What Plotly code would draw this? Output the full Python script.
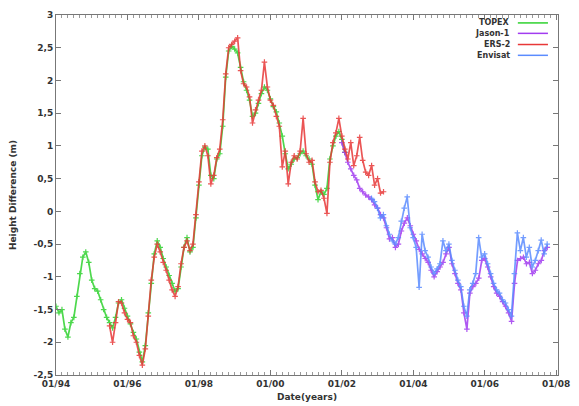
import numpy as np
import plotly.graph_objects as go

# ---------------- data (decimal years, monthly sampling) ----------------
topex_start = 1994.0
topex_vals = [-1.45, -1.55, -1.50, -1.80, -1.92, -1.70, -1.62, -1.30, -0.95, -0.70, -0.62, -0.78,
              -1.05, -1.18, -1.22, -1.35, -1.50, -1.62, -1.70, -1.78, -1.62, -1.40, -1.35, -1.48,
              -1.60, -1.72, -1.85, -1.95, -2.15, -2.30, -2.05, -1.55, -1.10, -0.65, -0.45, -0.55,
              -0.72, -0.85, -0.98, -1.10, -1.22, -1.18, -0.85, -0.55, -0.40, -0.62, -0.55, -0.10,
              0.40, 0.85, 0.98, 0.95, 0.55, 0.50, 0.80, 0.88, 1.30, 2.05, 2.45, 2.52,
              2.48, 2.42, 2.20, 1.98, 1.85, 1.70, 1.45, 1.50, 1.65, 1.80, 1.90, 1.85,
              1.72, 1.60, 1.52, 1.35, 1.15, 0.88, 0.65, 0.72, 0.80, 0.82, 0.88, 0.92,
              0.85, 0.80, 0.72, 0.40, 0.18, 0.30, 0.26, 0.35, 0.80, 1.00, 1.15, 1.22,
              1.10, 0.90]

ers2_start = 1995.5
ers2_vals = [-1.75, -2.00, -1.70, -1.38, -1.40, -1.55,
             -1.65, -1.70, -1.90, -2.00, -2.20, -2.35, -2.10, -1.60, -1.05, -0.70, -0.50, -0.62,
             -0.78, -0.90, -1.05, -1.20, -1.30, -1.15, -0.80, -0.55, -0.45, -0.60, -0.50, -0.05,
             0.45, 0.92, 1.00, 0.85, 0.42, 0.55, 0.82, 0.95, 1.40, 2.10, 2.50, 2.55,
             2.60, 2.65, 2.15, 1.95, 1.90, 1.75, 1.35, 1.55, 1.70, 1.85, 2.28, 1.90,
             1.70, 1.62, 1.45, 1.30, 0.68, 0.92, 0.42, 0.75, 0.85, 0.80, 0.92, 1.42,
             0.88, 0.75, 0.78, 0.45, 0.30, 0.32, 0.20, -0.03, 0.75, 1.05, 1.20, 1.42,
             1.15, 0.95, 0.80, 1.05, 0.70, 0.85, 1.13, 0.78, 0.60, 0.55, 0.70, 0.40,
             0.50, 0.28, 0.30]

jason_start = 2002.0
jason_vals = [1.05, 0.90, 0.75, 0.65, 0.55, 0.48, 0.35, 0.30, 0.25, 0.22, 0.18, 0.10,
              0.05, -0.05, -0.10, -0.25, -0.42, -0.40, -0.55, -0.50, -0.30, -0.18, -0.10, -0.22,
              -0.35, -0.45, -0.58, -0.65, -0.72, -0.78, -0.90, -1.00, -0.92, -0.85, -0.78, -0.65,
              -0.55, -0.80, -0.95, -1.10, -1.20, -1.55, -1.80, -1.25, -1.15, -1.10, -1.02, -0.75,
              -0.72, -0.85, -1.00, -1.15, -1.25, -1.30, -1.38, -1.45, -1.55, -1.68, -1.10, -0.75,
              -0.72, -0.70, -0.80, -0.78, -0.95, -0.90, -0.80, -0.75, -0.60, -0.55]

envisat_start = 2002.83
envisat_vals = [0.20, 0.15,
                0.05, -0.10, -0.05, -0.22, -0.35, -0.45, -0.50, -0.40, -0.15, 0.05, 0.22, -0.25,
                -0.40, -0.55, -1.16, -0.35, -0.60, -0.70, -0.85, -0.95, -0.88, -0.80, -0.45, -0.60,
                -0.50, -0.75, -0.90, -1.05, -1.15, -1.45, -1.60, -1.20, -1.10, -0.95, -0.40, -0.70,
                -0.65, -0.80, -0.95, -1.10, -1.20, -1.25, -1.35, -1.40, -1.50, -1.60, -0.95, -0.33,
                -0.60, -0.40, -0.70, -0.55, -0.85, -0.75, -0.60, -0.44, -0.65, -0.50]

series_names = ["TOPEX", "Jason-1", "ERS-2", "Envisat"]
series_colors = ["#2fd22f", "#a23cf0", "#e83838", "#5b8cff"]

x_tick_vals = [1994, 1996, 1998, 2000, 2002, 2004, 2006, 2008]
x_tick_text = ["01/94", "01/96", "01/98", "01/00", "01/02", "01/04", "01/06", "01/08"]
y_tick_vals = [-2.5, -2, -1.5, -1, -0.5, 0, 0.5, 1, 1.5, 2, 2.5, 3]
y_tick_text = ["-2,5", "-2", "-1,5", "-1", "-0,5", "0", "0,5", "1", "1,5", "2", "2,5", "3"]


def months(start, vals):
    return [round(start + i / 12.0, 4) for i in range(len(vals))]


data = {
    "TOPEX": (months(topex_start, topex_vals), topex_vals),
    "Jason-1": (months(jason_start, jason_vals), jason_vals),
    "ERS-2": (months(ers2_start, ers2_vals), ers2_vals),
    "Envisat": (months(envisat_start, envisat_vals), envisat_vals),
}

FONT = "DejaVu Sans"
fig = go.Figure()
for name, col in zip(series_names, series_colors):
    xs, ys = data[name]
    fig.add_trace(go.Scatter(
        x=xs, y=ys, mode="lines+markers", name=name,
        line=dict(color=col, width=1.7),
        marker=dict(color=col, size=4, symbol="cross-thin", line=dict(color=col, width=1.2)),
        opacity=0.85, showlegend=False))

# custom gnuplot-style key (text right-aligned, sample to the right)
key_rows = [0.978, 0.949, 0.918, 0.888]
for name, col, yy in zip(series_names, series_colors, key_rows):
    fig.add_annotation(xref="paper", yref="paper", x=0.908, y=yy, text="<b>" + name + "</b>",
                       showarrow=False, xanchor="right", yanchor="middle",
                       font=dict(family=FONT, size=8, color="#333333"))
    fig.add_shape(type="line", xref="paper", yref="paper", x0=0.92, x1=0.98, y0=yy, y1=yy,
                  line=dict(color=col, width=1.5))

# the page body adds an 8px offset, so the figure is drawn 8px smaller/shifted
fig.update_layout(
    width=571, height=398,
    margin=dict(l=48, r=21, t=7, b=31, autoexpand=False),
    paper_bgcolor="white", plot_bgcolor="white",
    font=dict(family=FONT, size=9, color="#333333"),
    showlegend=False,
)
fig.update_xaxes(
    range=[1994, 2008.05], tickmode="array", tickvals=x_tick_vals,
    ticktext=["<b>" + t + "</b>" for t in x_tick_text],
    ticks="inside", ticklen=5, tickcolor="#777777",
    minor=dict(tickmode="linear", tick0=1994, dtick=1 / 6.0, ticks="inside", ticklen=3,
               tickcolor="#999999", showgrid=False),
    showline=True, mirror="allticks", linecolor="#777777", linewidth=1,
    showgrid=False, zeroline=False, automargin=False,
    title=dict(text="<b>Date(years)</b>", font=dict(family=FONT, size=9, color="#333333"), standoff=5),
    tickfont=dict(family=FONT, size=9, color="#333333"),
)
fig.update_yaxes(
    range=[-2.5, 3], tickmode="array", tickvals=y_tick_vals,
    ticktext=["<b>" + t + "</b>" for t in y_tick_text],
    ticks="inside", ticklen=5, tickcolor="#777777",
    showline=True, mirror="allticks", linecolor="#777777", linewidth=1,
    showgrid=False, zeroline=False, automargin=False,
    title=dict(text="<b>Height Difference (m)</b>", font=dict(family=FONT, size=9, color="#333333"), standoff=16),
    tickfont=dict(family=FONT, size=9, color="#333333"),
)

fig.write_html("out.html")
